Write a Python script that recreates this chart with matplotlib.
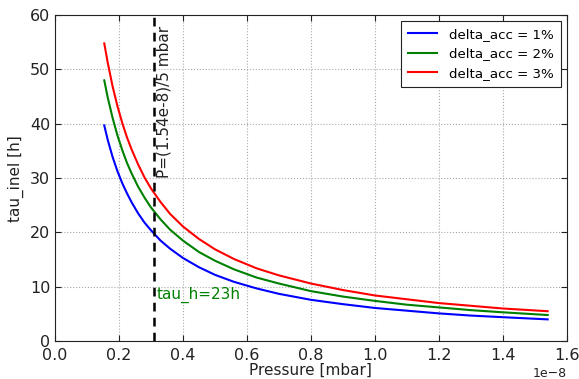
import numpy as np
import matplotlib
matplotlib.use("Agg")
import matplotlib.pyplot as plt

# Pressure samples [1e-8 mbar]
pressure_e8 = [0.154, 0.165, 0.18, 0.195, 0.21, 0.225, 0.24, 0.26, 0.28, 0.30,
               0.33, 0.36, 0.40, 0.45, 0.50, 0.56, 0.63, 0.70, 0.80, 0.90,
               1.00, 1.10, 1.20, 1.30, 1.40, 1.54]

# Inelastic lifetime [h] for each accepted momentum deviation
tau_1pct = [39.7, 37.0, 33.9, 31.3, 29.1, 27.2, 25.5, 23.5, 21.8, 20.4,
            18.5, 17.0, 15.3, 13.6, 12.2, 10.9, 9.7, 8.7, 7.6, 6.8,
            6.1, 5.6, 5.1, 4.7, 4.4, 4.0]
tau_2pct = [48.0, 44.8, 41.1, 37.9, 35.2, 32.8, 30.8, 28.4, 26.4, 24.6,
            22.4, 20.5, 18.5, 16.4, 14.8, 13.2, 11.7, 10.6, 9.2, 8.2,
            7.4, 6.7, 6.2, 5.7, 5.3, 4.8]
tau_3pct = [54.8, 51.2, 46.9, 43.3, 40.2, 37.5, 35.2, 32.5, 30.1, 28.1,
            25.6, 23.4, 21.1, 18.8, 16.9, 15.1, 13.4, 12.1, 10.6, 9.4,
            8.4, 7.7, 7.0, 6.5, 6.0, 5.5]

labels = ["delta_acc = 1%", "delta_acc = 2%", "delta_acc = 3%"]
colors = ["blue", "green", "red"]

p_nominal = 1.54e-8 / 5

pressure = np.array(pressure_e8) * 1e-8

fig = plt.figure(figsize=(5.79, 3.79), dpi=100)
ax = fig.add_axes([0.095, 0.100, 0.884, 0.860])

for tau, lab, c in zip([tau_1pct, tau_2pct, tau_3pct], labels, colors):
    ax.plot(pressure, tau, color=c, lw=1.5, label=lab)

ax.axvline(p_nominal, color="black", ls=(0, (3.5, 2.5)), lw=1.8)
ax.text(p_nominal + 0.01e-8, 30, "P=(1.54e-8)/5 mbar", rotation=90,
        fontsize=11, color="#222222", ha="left", va="bottom")
ax.text(p_nominal + 0.01e-8, 8.5, "tau_h=23h", fontsize=11,
        color="green", ha="left", va="center")

ax.set_xlim(0, 1.6e-8)
ax.set_ylim(0, 60)
ax.set_xticks(np.arange(0, 1.61e-8, 0.2e-8))
ax.set_yticks(np.arange(0, 61, 10))
ax.grid(True, color="#aaaaaa", ls=":", lw=0.8)
ax.tick_params(direction="in", top=True, right=True, labelsize=11.5,
               colors="#222222", length=4)
ax.tick_params(axis="x", pad=5)
ax.xaxis.get_offset_text().set_fontsize(9)
for s in ax.spines.values():
    s.set_color("#222222")

ax.set_xlabel("Pressure [mbar]", fontsize=11, color="#222222", labelpad=0)
ax.set_ylabel("tau_inel [h]", fontsize=11, color="#222222", labelpad=4)

leg = ax.legend(loc="upper right", fontsize=9.6, fancybox=False,
                framealpha=1, edgecolor="#222222", handlelength=2.2,
                handletextpad=0.9, borderpad=0.5, labelspacing=0.5,
                borderaxespad=0.45)
leg.get_frame().set_linewidth(0.8)

fig.savefig("out.png", dpi=100)
